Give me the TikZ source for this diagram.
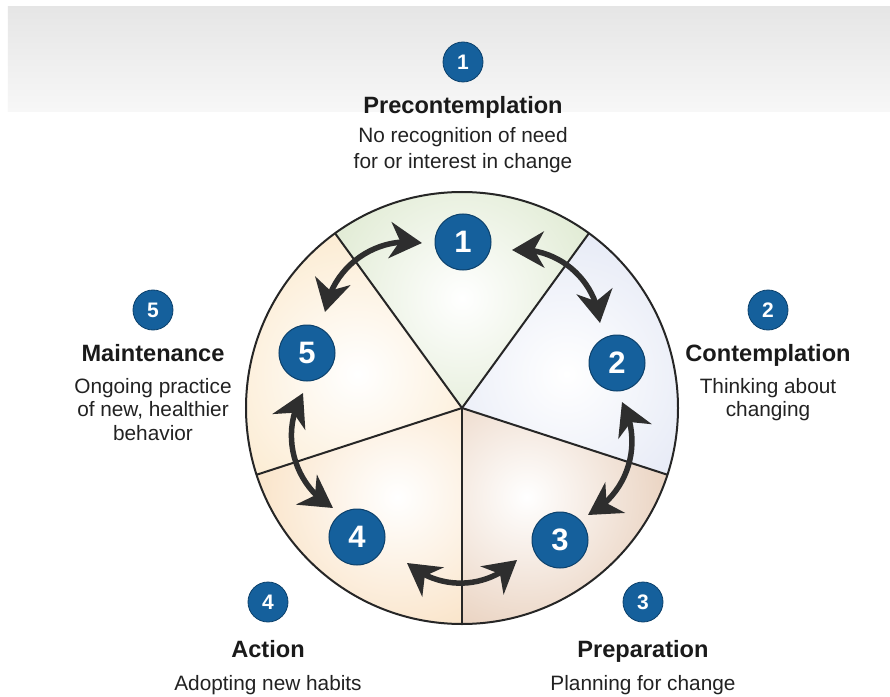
\documentclass[tikz,border=0pt]{standalone}
\usepackage{fontspec}
\setmainfont{Liberation Sans}
\usetikzlibrary{arrows.meta,bending}
\definecolor{numblue}{HTML}{15609C}
\definecolor{numedge}{HTML}{0C416C}
\definecolor{arrowgray}{HTML}{2E2E2E}
\definecolor{secA}{HTML}{D0E0BC}
\definecolor{secB}{HTML}{D9DFF1}
\definecolor{secC}{HTML}{DEBA9E}
\definecolor{secD}{HTML}{F7D5AB}
\definecolor{secE}{HTML}{FAE1BA}
\definecolor{titletext}{HTML}{1A1A1A}
\definecolor{desctext}{HTML}{222222}
\begin{document}
\begin{tikzpicture}[x=1pt,y=1pt,
  bignum/.style={circle,fill=numblue,draw=numedge,line width=1pt,minimum size=56pt,inner sep=0pt,text=white,font=\fontsize{31}{31}\selectfont\bfseries},
  smallnum/.style={circle,fill=numblue,draw=numedge,line width=0.8pt,minimum size=40pt,inner sep=0pt,text=white,font=\fontsize{21}{21}\selectfont\bfseries},
  stagetitle/.style={anchor=base,inner sep=0pt,font=\fontsize{23.6}{23.6}\selectfont\bfseries,text=titletext},
  stagedesc/.style={anchor=base,inner sep=0pt,font=\fontsize{20.8}{20.8}\selectfont,text=desctext},
  headtip/.tip={Stealth[length=32pt 0,width=36pt 0,inset=10pt,flex=0.6]},
  cyclearrow/.style={line width=5.5pt,draw=arrowgray,headtip-headtip},
  divider/.style={line width=2pt,draw=black!85}
]
\useasboundingbox (-462,-288) rectangle (428,408);
\fill[white] (-462,-288) rectangle (428,408);
% top band
\shade[top color=black!10, bottom color=black!3] (-454,401) rectangle (428,296);

% sectors
\foreach \c/\col in {90/secA, 18/secB, -54/secC, -126/secD, 162/secE} {
  \begin{scope}
    \clip (0,0) -- (\c+36:216) arc[start angle=\c+36, end angle=\c-36, radius=216] -- cycle;
    \shade[inner color=white, outer color=\col] (\c:110) circle (225);
  \end{scope}
}
\foreach \a in {54,126,198,270,342}
  \draw[divider] (0,0) -- (\a:216);
\draw[divider] (0,0) circle (216);

% wheel numbers
\node[bignum] (n1) at (1,166) {1};
\node[bignum] (n2) at (155,45) {2};
\node[bignum] (n3) at (98,-132) {3};
\node[bignum] (n4) at (-105,-129) {4};
\node[bignum] (n5) at (-155,55) {5};

% arrow ends
\coordinate (a12) at (50,158);
\coordinate (a21) at (138,85);
\coordinate (a23) at (160,6);
\coordinate (a32) at (126,-107);
\coordinate (a34) at (55,-152);
\coordinate (a43) at (-55,-155);
\coordinate (a45) at (-129,-100);
\coordinate (a54) at (-159,15);
\coordinate (a51) at (-137,96);
\coordinate (a15) at (-40,165);
\draw[cyclearrow] (a12) to[bend left=45] (a21);
\draw[cyclearrow] (a23) to[bend left=45] (a32);
\draw[cyclearrow] (a34) to[bend left=42] (a43);
\draw[cyclearrow] (a45) to[bend left=45] (a54);
\draw[cyclearrow] (a51) to[bend left=45] (a15);

% outer labels
\node[smallnum] (s1) at (1,346) {1};
\node[stagetitle] (t1) at (1,294.5) {Precontemplation};
\node[stagedesc] (d1a) at (1,265) {No recognition of need};
\node[stagedesc] (d1b) at (1,239) {for or interest in change};

\node[smallnum] (s2) at (306,98) {2};
\node[stagetitle] (t2) at (306,47) {Contemplation};
\node[stagedesc] (d2a) at (306,15) {Thinking about};
\node[stagedesc] (d2b) at (306,-8.5) {changing};

\node[smallnum] (s5) at (-309,98) {5};
\node[stagetitle] (t5) at (-309,47) {Maintenance};
\node[stagedesc] (d5a) at (-309,15) {Ongoing practice};
\node[stagedesc] (d5b) at (-309,-8.5) {of new, healthier};
\node[stagedesc] (d5c) at (-309,-32) {behavior};

\node[smallnum] (s4) at (-194,-194) {4};
\node[stagetitle] (t4) at (-194,-249) {Action};
\node[stagedesc] (d4a) at (-194,-282) {Adopting new habits};

\node[smallnum] (s3) at (181,-194) {3};
\node[stagetitle] (t3) at (181,-249) {Preparation};
\node[stagedesc] (d3a) at (181,-282) {Planning for change};
\end{tikzpicture}
\end{document}
